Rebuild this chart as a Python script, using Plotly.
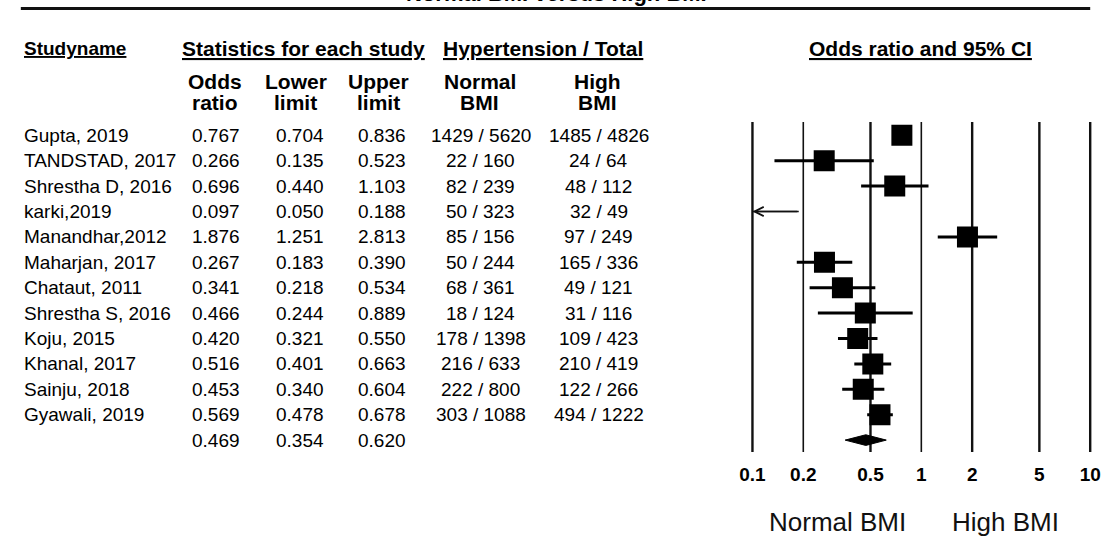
import math
import plotly.graph_objects as go

# ---------------- data ----------------
studies = ["Gupta, 2019", "TANDSTAD, 2017", "Shrestha D, 2016", "karki,2019",
           "Manandhar,2012", "Maharjan, 2017", "Chataut, 2011", "Shrestha S, 2016",
           "Koju, 2015", "Khanal, 2017", "Sainju, 2018", "Gyawali, 2019"]
odds_ratio = [0.767, 0.266, 0.696, 0.097, 1.876, 0.267, 0.341, 0.466, 0.420, 0.516, 0.453, 0.569]
lower_limit = [0.704, 0.135, 0.440, 0.050, 1.251, 0.183, 0.218, 0.244, 0.321, 0.401, 0.340, 0.478]
upper_limit = [0.836, 0.523, 1.103, 0.188, 2.813, 0.390, 0.534, 0.889, 0.550, 0.663, 0.604, 0.678]
normal_events = [1429, 22, 82, 50, 85, 50, 68, 18, 178, 216, 222, 303]
normal_total = [5620, 160, 239, 323, 156, 244, 361, 124, 1398, 633, 800, 1088]
high_events = [1485, 24, 48, 32, 97, 165, 49, 31, 109, 210, 122, 494]
high_total = [4826, 64, 112, 49, 249, 336, 121, 116, 423, 419, 266, 1222]
summary_or = 0.469
summary_lower = 0.354
summary_upper = 0.620
axis_ticks = [0.1, 0.2, 0.5, 1, 2, 5, 10]
tick_labels = ["0.1", "0.2", "0.5", "1", "2", "5", "10"]

# ---------------- layout helpers ----------------
W, H = 1110, 560
FONT = "Liberation Sans, Arial, sans-serif"


def px(x):
    return x / W


def py(y):
    return 1 - y / H


ROW0, ROWH = 135.3, 25.4           # pixel centre of first row, row pitch
DEC = 171.5                         # pixels per decade on the forest axis
X_LEFT = 754                        # pixel of 0.1
xr = [-1.02, 1.02]
xdom = [px(X_LEFT + (xr[0] + 1) * DEC), px(X_LEFT + (xr[1] + 1) * DEC)]
yr = [12.6, -0.65]
ydom = [py(ROW0 + yr[0] * ROWH), py(ROW0 + yr[1] * ROWH)]
line_top, line_bot = -0.524, 12.469
n = len(studies)
summary_row = n

fig = go.Figure()

# vertical reference lines
widths = [2.4, 1.6, 2.4, 1.6, 2.4, 2.4, 2.4]
for v, w in zip(axis_ticks, widths):
    fig.add_trace(go.Scatter(x=[v, v], y=[line_top, line_bot], mode="lines",
                             line=dict(color="#111", width=w), hoverinfo="skip",
                             showlegend=False))

# confidence intervals
xmin, xmax = axis_ticks[0], axis_ticks[-1]
ci_x, ci_y, tr_x, tr_y = [], [], [], []
for i in range(n):
    lo = max(lower_limit[i], xmin)
    hi = min(upper_limit[i], xmax)
    if lower_limit[i] < xmin:
        tr_x += [lo, hi, None]
        tr_y += [i, i, None]
        fig.add_annotation(x=math.log10(xmin), y=i, ax=math.log10(hi), ay=i,
                           xref="x", yref="y", axref="x", ayref="y", text="",
                           showarrow=True, arrowhead=5, arrowsize=1.3,
                           arrowwidth=1.4, arrowcolor="#111")
    else:
        ci_x += [lo, hi, None]
        ci_y += [i, i, None]
fig.add_trace(go.Scatter(x=ci_x, y=ci_y, mode="lines",
                         line=dict(color="#000", width=3), showlegend=False,
                         hoverinfo="skip"))
fig.add_trace(go.Scatter(x=tr_x, y=tr_y, mode="lines",
                         line=dict(color="#111", width=1.6), showlegend=False,
                         hoverinfo="skip"))

# point estimates
mx = [o for o in odds_ratio if xmin <= o <= xmax]
my = [i for i, o in enumerate(odds_ratio) if xmin <= o <= xmax]
fig.add_trace(go.Scatter(x=mx, y=my, mode="markers",
                         marker=dict(symbol="square", size=21, color="#000",
                                     line=dict(width=0)),
                         showlegend=False))

# summary diamond
dh = 0.21
fig.add_trace(go.Scatter(x=[summary_lower, summary_or, summary_upper, summary_or, summary_lower],
                         y=[summary_row, summary_row - dh, summary_row, summary_row + dh, summary_row],
                         mode="lines", fill="toself", fillcolor="#000",
                         line=dict(color="#000", width=1), showlegend=False))

# ---------------- table text ----------------
ann = []


def txt(text, x, y, size=19, bold=False, xanchor="center", yref="paper", color="#000"):
    t = f"<b>{text}</b>" if bold else text
    ann.append(dict(text=t, x=x, y=y, xref="paper", yref=yref, xanchor=xanchor,
                    yanchor="middle", showarrow=False,
                    font=dict(family=FONT, size=size, color=color)))


col_x = [209, 295, 378, 478, 598]
for i in range(n):
    txt(studies[i], px(12), i, xanchor="left", yref="y")
    txt(f"{odds_ratio[i]:.3f}", px(col_x[0]), i, yref="y")
    txt(f"{lower_limit[i]:.3f}", px(col_x[1]), i, yref="y")
    txt(f"{upper_limit[i]:.3f}", px(col_x[2]), i, yref="y")
    txt(f"{normal_events[i]} / {normal_total[i]}", px(col_x[3]), i, yref="y")
    txt(f"{high_events[i]} / {high_total[i]}", px(col_x[4]), i, yref="y")
txt(f"{summary_or:.3f}", px(col_x[0]), summary_row, yref="y")
txt(f"{summary_lower:.3f}", px(col_x[1]), summary_row, yref="y")
txt(f"{summary_upper:.3f}", px(col_x[2]), summary_row, yref="y")

# headers
txt("Normal BMI versus High BMI", 0.5, py(-6.2), size=22, bold=True)
txt("<u>Studyname</u>", px(12), py(48), size=19, bold=True, xanchor="left")
txt("<u>Statistics for each study</u>", px(173), py(48), size=21, bold=True, xanchor="left")
txt("<u>Hypertension / Total</u>", px(438), py(48), size=21, bold=True, xanchor="left")
txt("<u>Odds ratio and 95% CI</u>", px(925), py(48), size=21, bold=True)
head1 = ["Odds", "Lower", "Upper", "Normal", "High"]
head2 = ["ratio", "limit", "limit", "BMI", "BMI"]
head_x = [208, 290, 374, 477, 597]
for a, b, x in zip(head1, head2, head_x):
    txt(a, px(x), py(81), size=21, bold=True)
    txt(b, px(x), py(102), size=21, bold=True)

txt("Normal BMI", px(840), py(522), size=26, color="#111")
txt("High BMI", px(1011), py(522), size=26, color="#111")

fig.update_layout(
    width=W, height=H, autosize=False,
    margin=dict(l=0, r=0, t=0, b=0),
    paper_bgcolor="white", plot_bgcolor="white",
    annotations=fig.layout.annotations + tuple(ann),
    shapes=[dict(type="line", xref="paper", yref="paper", x0=px(11), x1=px(1097),
                 y0=py(8.5), y1=py(8.5), line=dict(color="#111", width=3))],
    xaxis=dict(type="log", range=xr, domain=xdom, tickvals=axis_ticks,
               ticktext=tick_labels, showgrid=False, zeroline=False, showline=False,
               ticks="", ticklabelstandoff=6,
               tickfont=dict(family=FONT, size=19, color="#000", weight="bold")),
    yaxis=dict(range=yr, domain=ydom, visible=False),
    showlegend=False,
)

fig.write_html("out.html", config={"displayModeBar": False},
               post_script="document.body.style.margin='0';document.body.style.padding='0';")
